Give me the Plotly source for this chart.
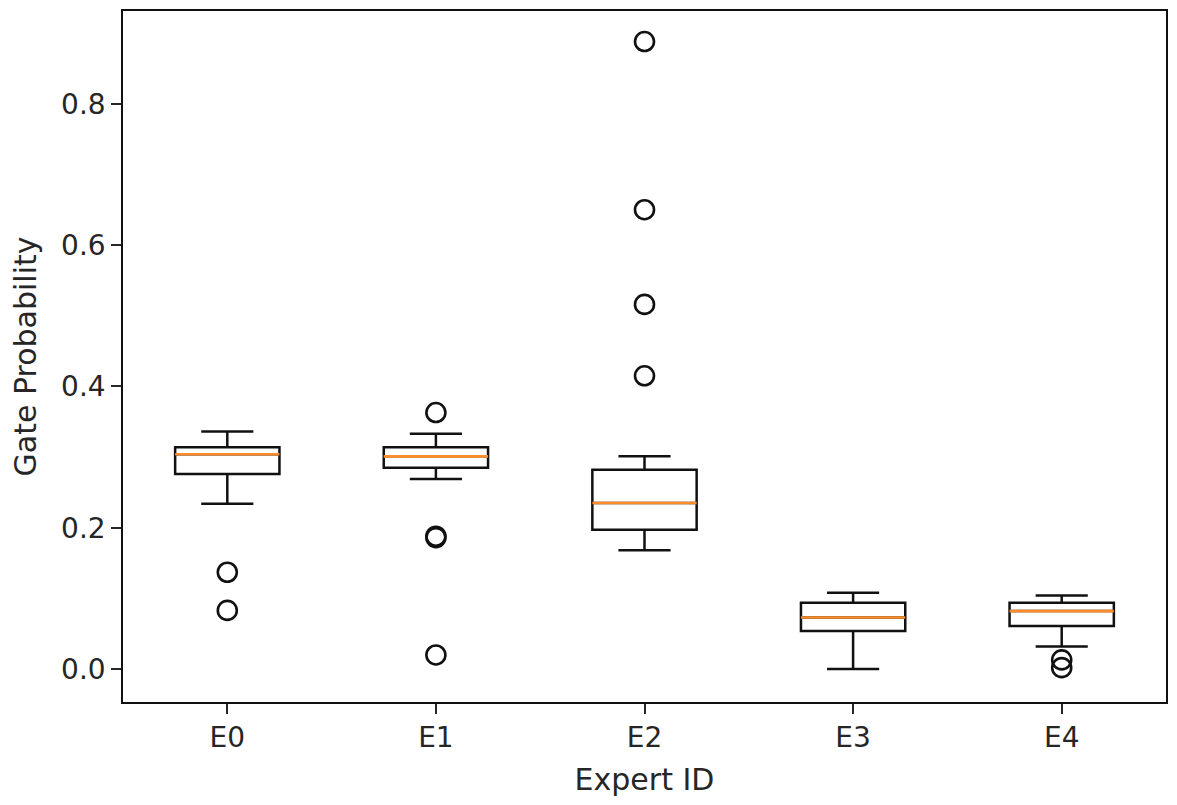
import plotly.graph_objects as go

experts = ["E0", "E1", "E2", "E3", "E4"]
positions = [1, 2, 3, 4, 5]
q1 = [0.276, 0.285, 0.197, 0.054, 0.061]
median = [0.304, 0.301, 0.235, 0.073, 0.082]
q3 = [0.314, 0.314, 0.282, 0.094, 0.094]
lower_whisker = [0.234, 0.269, 0.168, 0.000, 0.032]
upper_whisker = [0.336, 0.333, 0.301, 0.108, 0.104]
outliers = [
    [0.137, 0.083],
    [0.363, 0.188, 0.186, 0.020],
    [0.888, 0.650, 0.516, 0.415],
    [],
    [0.013, 0.002],
]

BOX_W = 0.5
fig = go.Figure()

for i, name in enumerate(experts):
    fig.add_trace(go.Box(
        x=[positions[i]], q1=[q1[i]], median=[median[i]], q3=[q3[i]],
        lowerfence=[lower_whisker[i]], upperfence=[upper_whisker[i]],
        width=BOX_W, whiskerwidth=0.5, boxpoints=False,
        line=dict(color="#111111", width=2.5), fillcolor="rgba(255,255,255,0)",
        showlegend=False, name=name,
    ))

# median lines (orange)
mx, my = [], []
for i in range(len(experts)):
    mx += [positions[i] - BOX_W / 2, positions[i] + BOX_W / 2, None]
    my += [median[i], median[i], None]
fig.add_trace(go.Scatter(x=mx, y=my, mode="lines",
                         line=dict(color="#ff8c2a", width=2.6),
                         showlegend=False, hoverinfo="skip"))

# outliers
ox, oy = [], []
for i in range(len(experts)):
    for v in outliers[i]:
        ox.append(positions[i])
        oy.append(v)
fig.add_trace(go.Scatter(x=ox, y=oy, mode="markers",
                         marker=dict(symbol="circle-open", size=19,
                                     color="#111111", line=dict(width=2.6)),
                         showlegend=False))

fig.update_layout(
    width=1161, height=789,
    margin=dict(l=115, r=1, t=1, b=95),
    plot_bgcolor="white", paper_bgcolor="white",
    font=dict(family="DejaVu Sans", size=28, color="#262626"),
    xaxis=dict(
        range=[0.5, 5.5], tickmode="array", tickvals=positions, ticktext=experts,
        showgrid=False, zeroline=False, showline=True, linecolor="#111111",
        linewidth=1.6, mirror=True, ticks="outside", ticklen=10, tickwidth=1.6,
        tickcolor="#262626",
        title=dict(text="Expert ID", standoff=18, font=dict(size=30)),
    ),
    yaxis=dict(
        range=[-0.0466, 0.9312], tickvals=[0.0, 0.2, 0.4, 0.6, 0.8],
        tickformat=".1f",
        showgrid=False, zeroline=False, showline=True, linecolor="#111111",
        linewidth=1.6, mirror=True, ticks="outside", ticklen=10, tickwidth=1.6,
        tickcolor="#262626",
        title=dict(text="Gate Probability", standoff=18, font=dict(size=30)),
    ),
)

fig.write_html("out.html")
